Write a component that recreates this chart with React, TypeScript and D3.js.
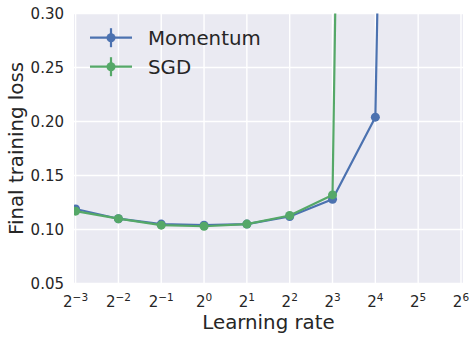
import React from "react";
import * as d3 from "d3";

const lrExponents = [-3, -2, -1, 0, 1, 2, 3, 4, 5];
const momentumLoss = [0.119, 0.110, 0.105, 0.104, 0.105, 0.112, 0.128, 0.204, 2.3];
const momentumErr = [0.001, 0.001, 0.001, 0.001, 0.001, 0.001, 0.001, 0.002, 0.0];
const sgdExponents = [-3, -2, -1, 0, 1, 2, 3, 4];
const sgdLoss = [0.117, 0.110, 0.104, 0.103, 0.105, 0.113, 0.132, 2.8];
const sgdErr = [0.001, 0.001, 0.001, 0.001, 0.001, 0.001, 0.002, 0.0];
const xTickExponents = [-3, -2, -1, 0, 1, 2, 3, 4, 5, 6];
const yTicks = [0.05, 0.10, 0.15, 0.20, 0.25, 0.30];
const seriesNames = ["Momentum", "SGD"];

const W = 476, H = 340;
const L = 74, R = 463, T = 13.5, B = 283.5;
const BLUE = "#4C72B0", GREEN = "#55A868";
const TXT = "#262626";
const FONT = "'DejaVu Sans', sans-serif";

export default function App() {
  const x = d3.scaleLog().base(2).domain([Math.pow(2, -3.037), Math.pow(2, 6.047)]).range([L, R]);
  const y = d3.scaleLinear().domain([0.05, 0.30]).range([B, T]);
  const line = d3.line<[number, number]>().x(d => x(Math.pow(2, d[0]))).y(d => y(d[1]));

  const series = [
    { name: seriesNames[0], color: BLUE, ex: lrExponents, v: momentumLoss, e: momentumErr },
    { name: seriesNames[1], color: GREEN, ex: sgdExponents, v: sgdLoss, e: sgdErr },
  ];

  return (
    <svg width={W} height={H} style={{ position: "absolute", left: 0, top: 0 }} fontFamily={FONT}>
      <defs>
        <clipPath id="plotclip">
          <rect x={L} y={T} width={R - L} height={B - T} />
        </clipPath>
      </defs>
      <rect x={0} y={0} width={W} height={H} fill="#fff" />
      <rect x={L} y={T} width={R - L} height={B - T} fill="#EAEAF2" />
      {xTickExponents.map(t => (
        <line key={"gx" + t} x1={x(Math.pow(2, t))} x2={x(Math.pow(2, t))} y1={T} y2={B} stroke="#fff" strokeWidth={1.4} />
      ))}
      {yTicks.map(t => (
        <line key={"gy" + t} x1={L} x2={R} y1={y(t)} y2={y(t)} stroke="#fff" strokeWidth={1.4} />
      ))}
      <g clipPath="url(#plotclip)">
        {series.map(s => {
          const pts = s.ex.map((e, i) => [e, s.v[i]] as [number, number]);
          return (
            <g key={s.name}>
              <path d={line(pts) || ""} fill="none" stroke={s.color} strokeWidth={2.2} strokeLinejoin="round" />
              {pts.map((p, i) => (
                <line key={"e" + i} x1={x(Math.pow(2, p[0]))} x2={x(Math.pow(2, p[0]))}
                  y1={y(p[1] - s.e[i])} y2={y(p[1] + s.e[i])} stroke={s.color} strokeWidth={2.2} />
              ))}
              {pts.map((p, i) => (
                <circle key={"m" + i} cx={x(Math.pow(2, p[0]))} cy={y(p[1])} r={4.5} fill={s.color} />
              ))}
            </g>
          );
        })}
      </g>
      {yTicks.map(t => (
        <text key={"yl" + t} x={64} y={y(t)} dy="0.36em" textAnchor="end" fontSize={15} fill={TXT}>
          {t.toFixed(2)}
        </text>
      ))}
      {xTickExponents.map(t => (
        <text key={"xl" + t} x={x(Math.pow(2, t))} y={307} textAnchor="middle" fontSize={15} fill={TXT}>
          <tspan>2</tspan>
          <tspan dy={-6.5} fontSize={10.5}>{t < 0 ? "\u2212" + Math.abs(t) : String(t)}</tspan>
        </text>
      ))}
      <text x={(L + R) / 2} y={329} textAnchor="middle" fontSize={19.8} fill={TXT}>Learning rate</text>
      <text transform={`translate(23,${(T + B) / 2}) rotate(-90)`} textAnchor="middle" fontSize={19.8} fill={TXT}>
        Final training loss
      </text>
      {series.map((s, i) => {
        const ly = 37.7 + i * 29;
        return (
          <g key={"lg" + s.name}>
            <line x1={90} x2={132} y1={ly} y2={ly} stroke={s.color} strokeWidth={2.2} />
            <line x1={111} x2={111} y1={ly - 9.5} y2={ly + 9.5} stroke={s.color} strokeWidth={2.2} />
            <circle cx={111} cy={ly} r={4.5} fill={s.color} />
            <text x={148} y={ly + 7} fontSize={19.8} fill={TXT}>{s.name}</text>
          </g>
        );
      })}
    </svg>
  );
}
